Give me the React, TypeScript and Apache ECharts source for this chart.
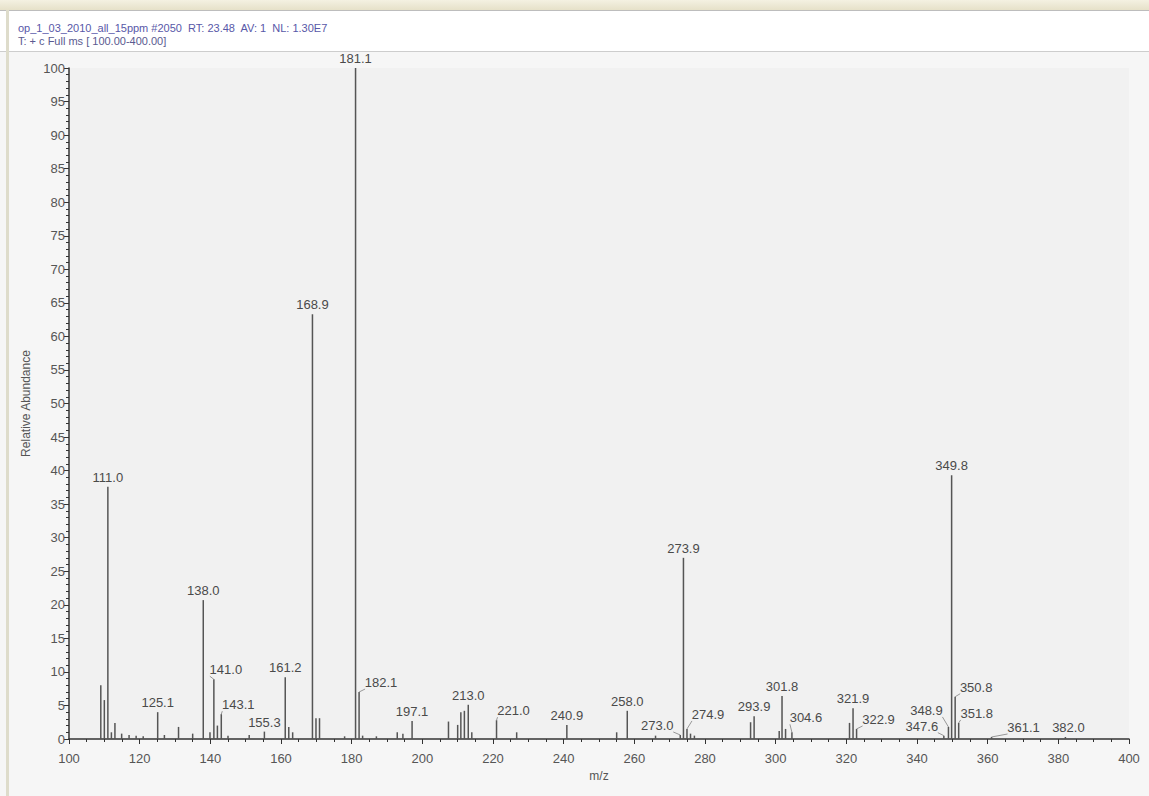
import React, { useEffect, useRef } from "react";
import * as echarts from "echarts";

// m/z values of the sticks
const mz = [
  109.0, 110.0, 111.0, 112.0, 113.0, 114.9, 117.0, 119.0, 121.0, 125.1, 127.0,
  131.0, 135.0, 138.0, 139.9, 141.0, 142.0, 143.1, 145.0, 151.0, 155.3, 161.2,
  162.2, 163.3, 168.9, 169.9, 170.9, 178.0, 181.1, 182.1, 183.1, 187.0, 192.9,
  194.5, 197.1, 207.4, 210.0, 210.9, 211.9, 213.0, 214.0, 221.0, 226.7, 240.9,
  255.0, 258.0, 266.0, 273.0, 273.9, 274.9, 275.9, 277.0, 292.9, 293.9, 301.0,
  301.8, 302.8, 304.6, 320.9, 321.9, 322.9, 347.6, 348.9, 349.8, 350.8, 351.8,
  361.1, 382.0,
];
// relative abundance of each stick
const intensity = [
  8.0, 5.8, 37.6, 1.0, 2.4, 0.8, 0.6, 0.5, 0.4, 4.0, 0.6,
  1.8, 0.8, 20.7, 1.0, 8.9, 2.0, 3.7, 0.5, 0.6, 1.1, 9.2,
  1.8, 1.0, 63.3, 3.1, 3.1, 0.4, 100.0, 7.0, 0.5, 0.4, 1.0,
  0.8, 2.7, 2.6, 2.1, 4.0, 4.2, 5.1, 1.0, 2.8, 1.0, 2.1,
  1.0, 4.2, 0.5, 0.6, 27.0, 1.5, 0.8, 0.5, 2.5, 3.4, 1.2,
  6.4, 1.5, 1.0, 2.4, 4.6, 1.5, 0.5, 1.8, 39.3, 6.3, 2.4,
  0.3, 0.3,
];
// peaks that carry an m/z label
const labeledPeaks = [
  "111.0", "125.1", "138.0", "141.0", "143.1", "155.3", "161.2", "168.9",
  "181.1", "182.1", "197.1", "213.0", "221.0", "240.9", "258.0", "273.0",
  "273.9", "274.9", "293.9", "301.8", "304.6", "321.9", "322.9", "347.6",
  "348.9", "349.8", "350.8", "351.8", "361.1", "382.0",
];
const titleLine1 = "op_1_03_2010_all_15ppm #2050  RT: 23.48  AV: 1  NL: 1.30E7";
const titleLine2 = "T: + c Full ms [ 100.00-400.00]";
const xAxisName = "m/z";
const yAxisName = "Relative Abundance";

// label displacement (px) for crowded peaks
const labelShift: Record<string, [number, number]> = {
  "141.0": [12, 0],
  "143.1": [17, 0],
  "182.1": [22, 0],
  "221.0": [17, 0],
  "273.0": [-23, 0],
  "274.9": [21, -5],
  "304.6": [14, -5],
  "322.9": [22, 0],
  "347.6": [-22, 0],
  "348.9": [-22, -7],
  "350.8": [21, 0],
  "351.8": [18, 0],
  "361.1": [32, 0],
  "382.0": [3, 0],
};

const FONT = "'Liberation Sans', Arial, sans-serif";

export default function App() {
  const ref = useRef<HTMLDivElement>(null);
  useEffect(() => {
    const chart = echarts.init(ref.current!, null, { renderer: "svg" });
    const data = mz.map((m, i) => [m, intensity[i]]);
    const labelSet = new Set(labeledPeaks);

    const renderItem = (params: any, api: any) => {
      const x = api.value(0) as number;
      const y = api.value(1) as number;
      const base = api.coord([x, 0]);
      const top = api.coord([x, y]);
      const children: any[] = [
        {
          type: "line",
          shape: { x1: base[0], y1: base[1], x2: top[0], y2: top[1] },
          style: { stroke: "#555555", lineWidth: 1.5 },
        },
      ];
      const key = x.toFixed(1);
      if (labelSet.has(key)) {
        const sh = labelShift[key] || [0, 0];
        const lx = top[0] + sh[0];
        const ly = top[1] - 3 + sh[1];
        children.push({
          type: "text",
          x: lx,
          y: ly,
          style: {
            text: key,
            fill: "#4a4a4a",
            fontSize: 13,
            fontFamily: FONT,
            align: "center",
            verticalAlign: "bottom",
            textAlign: "center",
            textVerticalAlign: "bottom",
          },
        });
        if (Math.abs(sh[0]) > 8) {
          const sx = sh[0] > 0 ? lx - 16 : lx + 16;
          children.push({
            type: "polyline",
            shape: { points: [[top[0], top[1]], [sx, ly]] },
            style: { stroke: "#808080", lineWidth: 0.8, fill: null },
          });
        }
      }
      return { type: "group", children };
    };

    chart.setOption({
      animation: false,
      backgroundColor: "#F6F6F6",
      grid: {
        left: 69,
        right: 20,
        top: 68,
        bottom: 57,
        show: true,
        backgroundColor: "#F1F1F1",
        borderWidth: 0,
      },
      graphic: [
        {
          type: "rect",
          shape: { x: 0, y: 0, width: 1149, height: 10 },
          style: {
            fill: new echarts.graphic.LinearGradient(0, 0, 0, 1, [
              { offset: 0, color: "#F4F1E2" },
              { offset: 1, color: "#E6E1C9" },
            ]),
          },
          z: -10,
        },
        {
          type: "rect",
          shape: { x: 0, y: 10, width: 1149, height: 42 },
          style: { fill: "#FFFFFF" },
          z: -10,
        },
        {
          type: "line",
          shape: { x1: 0, y1: 10.5, x2: 1149, y2: 10.5 },
          style: { stroke: "#BDBDBD", lineWidth: 1 },
        },
        {
          type: "line",
          shape: { x1: 0, y1: 51.5, x2: 1149, y2: 51.5 },
          style: { stroke: "#CDCDCD", lineWidth: 1 },
        },
        {
          type: "rect",
          shape: { x: 6, y: 10, width: 3, height: 786 },
          style: { fill: "#DEDCCB" },
        },
        {
          type: "text",
          x: 18,
          y: 28,
          style: {
            text: titleLine1,
            fill: "#5858A8",
            fontSize: 11,
            fontFamily: FONT,
            align: "left",
            verticalAlign: "middle",
          },
        },
        {
          type: "text",
          x: 18,
          y: 41,
          style: {
            text: titleLine2,
            fill: "#5A5A90",
            fontSize: 11,
            fontFamily: FONT,
            align: "left",
            verticalAlign: "middle",
          },
        },
      ],
      xAxis: {
        type: "value",
        min: 100,
        max: 400,
        interval: 20,
        name: xAxisName,
        nameLocation: "middle",
        nameGap: 29,
        nameTextStyle: { color: "#555", fontSize: 12, fontFamily: FONT },
        axisLine: { show: true, onZero: false, lineStyle: { color: "#333", width: 1.5 } },
        axisTick: { show: true, length: 5, lineStyle: { color: "#333" } },
        minorTick: { show: true, splitNumber: 4, length: 3, lineStyle: { color: "#333" } },
        splitLine: { show: false },
        minorSplitLine: { show: false },
        axisLabel: { margin: 13, color: "#555", fontSize: 13, fontFamily: FONT },
      },
      yAxis: {
        type: "value",
        min: 0,
        max: 100,
        interval: 5,
        name: yAxisName,
        nameLocation: "middle",
        nameGap: 37,
        nameRotate: 90,
        nameTextStyle: { color: "#555", fontSize: 12, fontFamily: FONT },
        axisLine: { show: true, lineStyle: { color: "#333", width: 1.5 } },
        axisTick: { show: true, length: 5, lineStyle: { color: "#333" } },
        minorTick: { show: true, splitNumber: 5, length: 3, lineStyle: { color: "#333" } },
        splitLine: { show: false },
        minorSplitLine: { show: false },
        axisLabel: { margin: 4, color: "#555", fontSize: 13, fontFamily: FONT },
      },
      series: [
        {
          type: "custom",
          data,
          renderItem,
          clip: false,
        },
      ],
    });
    return () => chart.dispose();
  }, []);

  return (
    <div
      ref={ref}
      style={{ position: "fixed", left: 0, top: 0, width: 1149, height: 796 }}
    />
  );
}
